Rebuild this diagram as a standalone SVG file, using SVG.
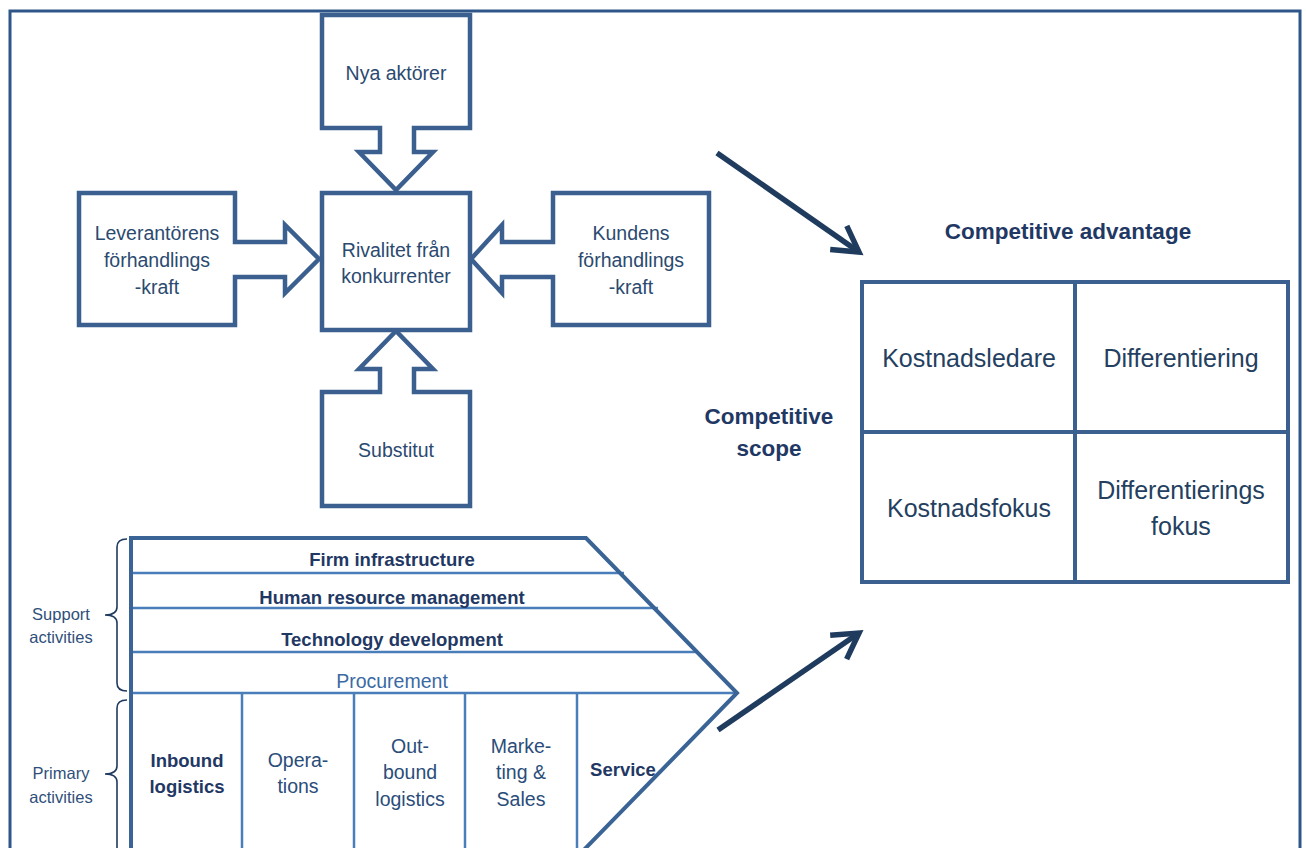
<svg xmlns="http://www.w3.org/2000/svg" width="1306" height="848" viewBox="0 0 1306 848">
<defs>
<style>
.frame{fill:none;stroke:#2f5689;stroke-width:3}
.box{fill:#fff;stroke:#3b5f8f;stroke-width:4.5;stroke-linejoin:miter}
.grid{fill:none;stroke:#3b5f8f;stroke-width:4}
.vc{fill:none;stroke:#3a6496;stroke-width:4}
.vcl{fill:none;stroke:#4a7ebb;stroke-width:2.5}
.brace{fill:none;stroke:#1f3a5f;stroke-width:1.6}
.big{fill:none;stroke:#1f3b5e;stroke-width:5.5}
.t{font-family:"Liberation Sans",Arial,sans-serif;fill:#2b4a70;text-anchor:middle}
.p{font-size:19.5px}
.g{font-size:25px;fill:#243f60}
.h{font-size:22.5px;font-weight:bold;fill:#1f3864}
.vb{font-size:18.5px;font-weight:bold;fill:#1f3864}
.vr{font-size:19.5px;fill:#2a4d7a}
.pr{font-size:19.5px;fill:#3b6aa3}
.s{font-size:16.5px;fill:#2f4f7a}
</style>
<marker id="chev" markerUnits="userSpaceOnUse" viewBox="-34 -20 40 40" markerWidth="40" markerHeight="40" refX="0" refY="0" orient="auto">
<path d="M-25,-14.5 L0,0 L-25,14.5" fill="none" stroke="#1f3b5e" stroke-width="5.5" stroke-linejoin="miter"/>
</marker>
</defs>
<rect width="1306" height="848" fill="#fff"/>
<rect class="frame" x="10" y="11" width="1290" height="860"/>

<g id="nya-aktorer">
<path class="box" d="M322,15 H470 V128 H414 V152 H433 L396,190 L359,152 H380 V128 H322 Z"/>
<text class="t p" x="396" y="80">Nya aktörer</text>
</g>
<g id="rivalitet">
<rect class="box" x="322" y="193" width="148" height="137"/>
<text class="t p" x="396" y="257">Rivalitet från</text>
<text class="t p" x="396" y="283">konkurrenter</text>
</g>
<g id="leverantorens">
<path class="box" d="M79,193 H235 V242 H285 V225 L319,259 L285,293 V277 H235 V325 H79 Z"/>
<text class="t p" x="157" y="240">Leverantörens</text>
<text class="t p" x="157" y="267">förhandlings</text>
<text class="t p" x="157" y="294">-kraft</text>
</g>
<g id="kundens">
<path class="box" d="M553,193 H709 V325 H553 V277 H502 V293 L471,259 L502,225 V242 H553 Z"/>
<text class="t p" x="631" y="240">Kundens</text>
<text class="t p" x="631" y="267">förhandlings</text>
<text class="t p" x="631" y="294">-kraft</text>
</g>
<g id="substitut">
<path class="box" d="M322,392 H380 V369 H359 L396,331 L433,369 H414 V392 H470 V506 H322 Z"/>
<text class="t p" x="396" y="457">Substitut</text>
</g>

<g id="connectors">
<line class="big" x1="717" y1="153" x2="859" y2="252" marker-end="url(#chev)"/>
<line class="big" x1="718" y1="730" x2="859" y2="633" marker-end="url(#chev)"/>
</g>

<g id="competitive-grid">
<text class="t h" x="1068" y="239">Competitive advantage</text>
<text class="t h" x="769" y="424">Competitive</text>
<text class="t h" x="769" y="456">scope</text>
<rect class="grid" x="862" y="282" width="426" height="300"/>
<line class="grid" x1="1075" y1="282" x2="1075" y2="582"/>
<line class="grid" x1="862" y1="432" x2="1288" y2="432"/>
<text class="t g" x="969" y="367">Kostnadsledare</text>
<text class="t g" x="1181" y="367">Differentiering</text>
<text class="t g" x="969" y="517">Kostnadsfokus</text>
<text class="t g" x="1181" y="499">Differentierings</text>
<text class="t g" x="1181" y="535">fokus</text>
</g>

<g id="value-chain">
<line class="vcl" x1="131" y1="573" x2="624" y2="573"/>
<line class="vcl" x1="131" y1="608" x2="658" y2="608"/>
<line class="vcl" x1="131" y1="652" x2="697" y2="652"/>
<line class="vcl" x1="131" y1="693" x2="737" y2="693"/>
<line class="vcl" x1="242" y1="693" x2="242" y2="860"/>
<line class="vcl" x1="354" y1="693" x2="354" y2="860"/>
<line class="vcl" x1="465" y1="693" x2="465" y2="860"/>
<line class="vcl" x1="577" y1="693" x2="577" y2="860"/>
<path class="vc" d="M131,870 V538 H586 L737,693 L576,858"/>
<text class="t vb" x="392" y="566">Firm infrastructure</text>
<text class="t vb" x="392" y="604">Human resource management</text>
<text class="t vb" x="392" y="646">Technology development</text>
<text class="t pr" x="392" y="688">Procurement</text>
<text class="t vb" x="187" y="767">Inbound</text>
<text class="t vb" x="187" y="793">logistics</text>
<text class="t vr" x="298" y="767">Opera-</text>
<text class="t vr" x="298" y="793">tions</text>
<text class="t vr" x="410" y="753">Out-</text>
<text class="t vr" x="410" y="779">bound</text>
<text class="t vr" x="410" y="806">logistics</text>
<text class="t vr" x="521" y="753">Marke-</text>
<text class="t vr" x="521" y="779">ting &amp;</text>
<text class="t vr" x="521" y="806">Sales</text>
<text class="t vb" x="623" y="776">Service</text>
</g>

<g id="support-activities">
<path class="brace" d="M127,539 Q117,539 117,547 V607 Q117,615 105,615 Q117,615 117,623 V683 Q117,691 127,691"/>
<text class="t s" x="61" y="620">Support</text>
<text class="t s" x="61" y="643">activities</text>
</g>
<g id="primary-activities">
<path class="brace" d="M127,700 Q117,700 117,708 V766 Q117,774 105,774 Q117,774 117,782 V860"/>
<text class="t s" x="61" y="779">Primary</text>
<text class="t s" x="61" y="803">activities</text>
</g>
</svg>
